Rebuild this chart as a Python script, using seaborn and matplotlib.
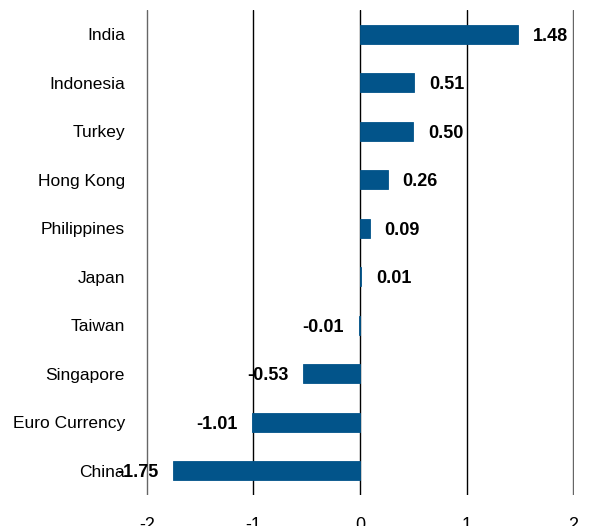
import matplotlib
matplotlib.use("Agg")
import matplotlib.pyplot as plt
import seaborn as sns
import pandas as pd

countries = ["India", "Indonesia", "Turkey", "Hong Kong", "Philippines",
             "Japan", "Taiwan", "Singapore", "Euro Currency", "China"]
values = [1.48, 0.51, 0.50, 0.26, 0.09, 0.01, -0.01, -0.53, -1.01, -1.75]
value_labels = ["1.48", "0.51", "0.50", "0.26", "0.09", "0.01", "-0.01", "-0.53", "-1.01", "-1.75"]
x_ticks = [-2, -1, 0, 1, 2]

sns.set_theme(style="white")
plt.rcParams['font.family'] = ['Liberation Sans', 'DejaVu Sans']
plt.rcParams['text.color'] = 'black'
plt.rcParams['xtick.color'] = 'black'
plt.rcParams['ytick.color'] = 'black'

df = pd.DataFrame({"country": countries, "value": values})

fig = plt.figure(figsize=(6.02, 5.26), dpi=100)
ax = fig.add_axes([0.242, 0.059, 0.712, 0.922])

BAR = "#02548A"
sns.barplot(data=df, x="value", y="country", orient="h", color=BAR,
            saturation=1, width=0.39, ax=ax, zorder=3,
            edgecolor=BAR, linewidth=0.6)

ax.set_xlim(-2.01, 2.01)
ax.set_ylim(9.5, -0.5)
ax.set_xticks(x_ticks)
ax.set_xticklabels([str(t) for t in x_ticks], fontsize=13)
ax.tick_params(axis='x', length=0, pad=16)
ax.tick_params(axis='y', length=0, pad=15, labelsize=12.5)
ax.set_xlabel("")
ax.set_ylabel("")
for s in ax.spines.values():
    s.set_visible(False)
ax.grid(axis='x', color='black', linewidth=1, zorder=0)
ax.grid(axis='y', visible=False)
ax.set_axisbelow(True)
gl = ax.get_xgridlines()
gl[0].set_color('#666666')
gl[-1].set_color('#666666')

for i, (v, lab) in enumerate(zip(values, value_labels)):
    if v >= 0:
        ax.annotate(lab, xy=(v, i), xytext=(15, -2), textcoords='offset pixels',
                    ha='left', va='center', fontsize=13, fontweight='bold')
    else:
        ax.annotate(lab, xy=(v, i), xytext=(-15, -2), textcoords='offset pixels',
                    ha='right', va='center', fontsize=13, fontweight='bold')

fig.savefig("out.png", dpi=100)
